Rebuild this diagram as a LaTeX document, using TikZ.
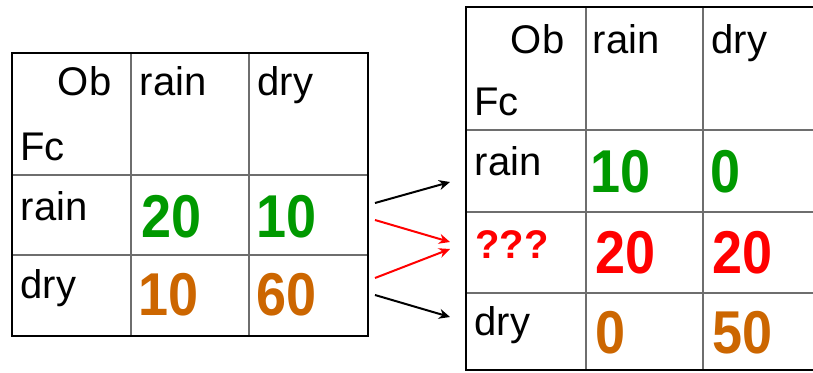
\documentclass[tikz,border=0pt]{standalone}
\usepackage{fontspec}
\setmainfont{Liberation Sans}
\usetikzlibrary{arrows.meta}
\definecolor{cgreen}{RGB}{0,153,0}
\definecolor{corange}{RGB}{204,102,0}
\definecolor{cred}{RGB}{255,0,0}
\definecolor{cgrid}{RGB}{110,110,110}
\tikzset{
 lbl/.style={inner sep=0pt, font=\fontsize{40}{40}\selectfont, text=black},
 num/.style={inner sep=0pt, font=\fontsize{54}{54}\selectfont\bfseries},
 q/.style={inner sep=0pt, font=\fontsize{40}{40}\selectfont\bfseries, text=cred},
 outerbox/.style={draw=black, line width=2.6pt},
 gridline/.style={draw=cgrid, line width=1.5pt},
 arr/.style={line width=2pt, -{Stealth[length=11pt,width=10pt,inset=3.5pt]}},
}
\newcommand{\tallnum}[1]{\scalebox{1}[1.12]{#1}}
\begin{document}
\begin{tikzpicture}[x=1pt,y=-1pt]
\useasboundingbox (0,0) rectangle (813,372);
\fill[white] (0,0) rectangle (813,372);
\begin{scope}
\clip (0,0) rectangle (813,372);
% ---------- left table ----------
\draw[gridline] (131,53) -- (131,336) (249,53) -- (249,336)
  (12,175) -- (368,175) (12,255) -- (368,255);
\draw[outerbox] (12,53) rectangle (368,336);
\node[lbl, anchor=base east] (lob) at (111.5,95) {Ob};
\node[lbl, anchor=base west] (lfc) at (20,160) {Fc};
\node[lbl, anchor=base west] (lhrain) at (139.5,95) {rain};
\node[lbl, anchor=base west] (lhdry) at (257.5,95) {dry};
\node[lbl, anchor=base west] (lrrain) at (20.5,220) {rain};
\node[lbl, anchor=base west] (lrdry) at (20.5,298) {dry};
\node[num, text=cgreen, anchor=base west] (l11) at (141.5,237) {\tallnum{20}};
\node[num, text=cgreen, anchor=base west] (l12) at (256.5,237) {\tallnum{10}};
\node[num, text=corange, anchor=base west] (l21) at (138,315) {\tallnum{10}};
\node[num, text=corange, anchor=base west] (l22) at (256,315) {\tallnum{60}};
% ---------- right table ----------
\draw[gridline] (586,7) -- (586,370) (703,7) -- (703,370)
  (466,130) -- (821,130) (466,212) -- (821,212) (466,293) -- (821,293);
\draw[outerbox] (466,7) rectangle (821,370);
\node[lbl, anchor=base east] (rob) at (564.5,53) {Ob};
\node[lbl, anchor=base west] (rfc) at (474,115) {Fc};
\node[lbl, anchor=base west] (rhrain) at (592.5,53) {rain};
\node[lbl, anchor=base west] (rhdry) at (711.5,53) {dry};
\node[lbl, anchor=base west] (rrrain) at (474.5,175) {rain};
\node[q, anchor=base west] (rrq) at (475,258) {???};
\node[lbl, anchor=base west] (rrdry) at (474.5,335) {dry};
\node[num, text=cgreen, anchor=base west] (r11) at (590,192) {\tallnum{10}};
\node[num, text=cgreen, anchor=base west] (r12) at (710,192) {\tallnum{0}};
\node[num, text=cred, anchor=base west] (r21) at (595.5,273) {\tallnum{20}};
\node[num, text=cred, anchor=base west] (r22) at (712,273) {\tallnum{20}};
\node[num, text=corange, anchor=base west] (r31) at (595,353) {\tallnum{0}};
\node[num, text=corange, anchor=base west] (r32) at (712,353) {\tallnum{50}};
\end{scope}
% ---------- arrows ----------
\coordinate (a1s) at (375,203);
\coordinate (a1e) at (450,182);
\coordinate (a2s) at (375,220);
\coordinate (a2e) at (450,242);
\coordinate (a3s) at (375,278);
\coordinate (a3e) at (450,249);
\coordinate (a4s) at (375,295);
\coordinate (a4e) at (450,317);
\draw[arr, black] (a1s) -- (a1e);
\draw[arr, cred] (a2s) -- (a2e);
\draw[arr, cred] (a3s) -- (a3e);
\draw[arr, black] (a4s) -- (a4e);
\end{tikzpicture}
\end{document}
